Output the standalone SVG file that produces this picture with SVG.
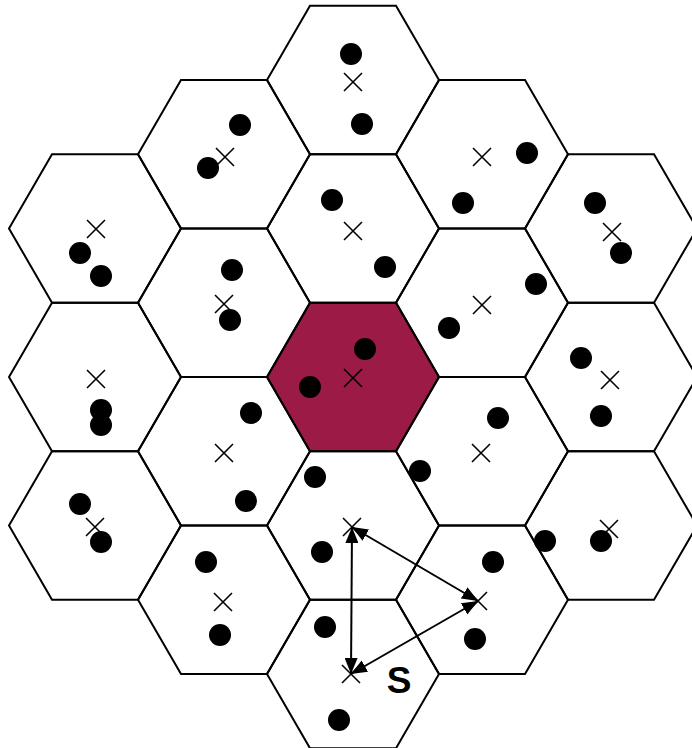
<svg xmlns="http://www.w3.org/2000/svg" xmlns:xlink="http://www.w3.org/1999/xlink" width="692" height="748" viewBox="0 0 692 748">
<style>
.hex{fill:none;stroke:#000;stroke-width:2;stroke-linejoin:miter}
.hot{fill:#9c1a46}
.dot{fill:#000}
.x{stroke:#000;stroke-width:1.6;fill:none}
.conn{stroke:#000;stroke-width:2;fill:none;marker-start:url(#ah);marker-end:url(#ah)}
.lbl{font-family:"Liberation Sans",Arial,sans-serif;font-weight:bold;font-size:37px;fill:#000}
</style>
<defs>
<polygon id="hx" points="-86,0 -43,-74.25 43,-74.25 86,0 43,74.25 -43,74.25"/>
<path id="cr" d="M-9,-9L9,9M9,-9L-9,9"/>
<marker id="ah" viewBox="0 0 16 13" refX="16" refY="6.5" markerWidth="16" markerHeight="13" markerUnits="userSpaceOnUse" orient="auto-start-reverse">
<path d="M0,0L16,6.5L0,13z" fill="#000"/>
</marker>
</defs>
<rect width="692" height="748" fill="#fff"/>
<g id="cell-c"><use href="#hx" x="353" y="377" class="hex hot"/><circle class="dot" cx="365" cy="349" r="11"/><circle class="dot" cx="310" cy="387" r="11"/><use href="#cr" x="353" y="378" class="x"/></g>
<g id="cell-1"><use href="#hx" x="353" y="80" class="hex"/><circle class="dot" cx="351" cy="54" r="11"/><circle class="dot" cx="362" cy="124" r="11"/><use href="#cr" x="353" y="82" class="x"/></g>
<g id="cell-2"><use href="#hx" x="224" y="154.25" class="hex"/><circle class="dot" cx="240" cy="125" r="11"/><circle class="dot" cx="208" cy="168" r="11"/><use href="#cr" x="225" y="157" class="x"/></g>
<g id="cell-3"><use href="#hx" x="482" y="154.25" class="hex"/><circle class="dot" cx="527" cy="153" r="11"/><circle class="dot" cx="463" cy="203" r="11"/><use href="#cr" x="482" y="157" class="x"/></g>
<g id="cell-4"><use href="#hx" x="95" y="228.5" class="hex"/><circle class="dot" cx="80" cy="253" r="11"/><circle class="dot" cx="101" cy="276" r="11"/><use href="#cr" x="96" y="229" class="x"/></g>
<g id="cell-5"><use href="#hx" x="353" y="228.5" class="hex"/><circle class="dot" cx="332" cy="200" r="11"/><circle class="dot" cx="385" cy="267" r="11"/><use href="#cr" x="353" y="231" class="x"/></g>
<g id="cell-6"><use href="#hx" x="611" y="228.5" class="hex"/><circle class="dot" cx="595" cy="203" r="11"/><circle class="dot" cx="621" cy="253" r="11"/><use href="#cr" x="612" y="232" class="x"/></g>
<g id="cell-7"><use href="#hx" x="224" y="302.75" class="hex"/><circle class="dot" cx="232" cy="270" r="11"/><circle class="dot" cx="230" cy="320" r="11"/><use href="#cr" x="224" y="304" class="x"/></g>
<g id="cell-8"><use href="#hx" x="482" y="302.75" class="hex"/><circle class="dot" cx="536" cy="284" r="11"/><circle class="dot" cx="449" cy="328" r="11"/><use href="#cr" x="482" y="305" class="x"/></g>
<g id="cell-9"><use href="#hx" x="95" y="377" class="hex"/><circle class="dot" cx="101" cy="410" r="11"/><circle class="dot" cx="101" cy="425" r="11"/><use href="#cr" x="96" y="379" class="x"/></g>
<g id="cell-10"><use href="#hx" x="611" y="377" class="hex"/><circle class="dot" cx="581" cy="358" r="11"/><circle class="dot" cx="601" cy="416" r="11"/><use href="#cr" x="610" y="380" class="x"/></g>
<g id="cell-11"><use href="#hx" x="224" y="451.25" class="hex"/><circle class="dot" cx="251" cy="413" r="11"/><circle class="dot" cx="246" cy="501" r="11"/><use href="#cr" x="224" y="453" class="x"/></g>
<g id="cell-12"><use href="#hx" x="482" y="451.25" class="hex"/><circle class="dot" cx="498" cy="418" r="11"/><circle class="dot" cx="420" cy="471" r="11"/><use href="#cr" x="481" y="453" class="x"/></g>
<g id="cell-13"><use href="#hx" x="95" y="525.5" class="hex"/><circle class="dot" cx="80" cy="504" r="11"/><circle class="dot" cx="101" cy="542" r="11"/><use href="#cr" x="95" y="527" class="x"/></g>
<g id="cell-14"><use href="#hx" x="353" y="525.5" class="hex"/><circle class="dot" cx="315" cy="477" r="11"/><circle class="dot" cx="322" cy="552" r="11"/><use href="#cr" x="352" y="527" class="x"/></g>
<g id="cell-15"><use href="#hx" x="611" y="525.5" class="hex"/><circle class="dot" cx="545" cy="541" r="11"/><circle class="dot" cx="601" cy="541" r="11"/><use href="#cr" x="609" y="529" class="x"/></g>
<g id="cell-16"><use href="#hx" x="224" y="599.75" class="hex"/><circle class="dot" cx="206" cy="562" r="11"/><circle class="dot" cx="220" cy="635" r="11"/><use href="#cr" x="223" y="602" class="x"/></g>
<g id="cell-17"><use href="#hx" x="482" y="599.75" class="hex"/><circle class="dot" cx="493" cy="562" r="11"/><circle class="dot" cx="475" cy="639" r="11"/><use href="#cr" x="478" y="601" class="x"/></g>
<g id="cell-18"><use href="#hx" x="353" y="674" class="hex"/><circle class="dot" cx="325" cy="627" r="11"/><circle class="dot" cx="339" cy="720" r="11"/><use href="#cr" x="351" y="674" class="x"/></g>
<g id="connectors">
<line class="conn" x1="352" y1="527" x2="351" y2="674"/>
<line class="conn" x1="352" y1="527" x2="478" y2="601"/>
<line class="conn" x1="478" y1="601" x2="351" y2="674"/>
</g>
<text class="lbl" x="399" y="693" text-anchor="middle">S</text>
</svg>
